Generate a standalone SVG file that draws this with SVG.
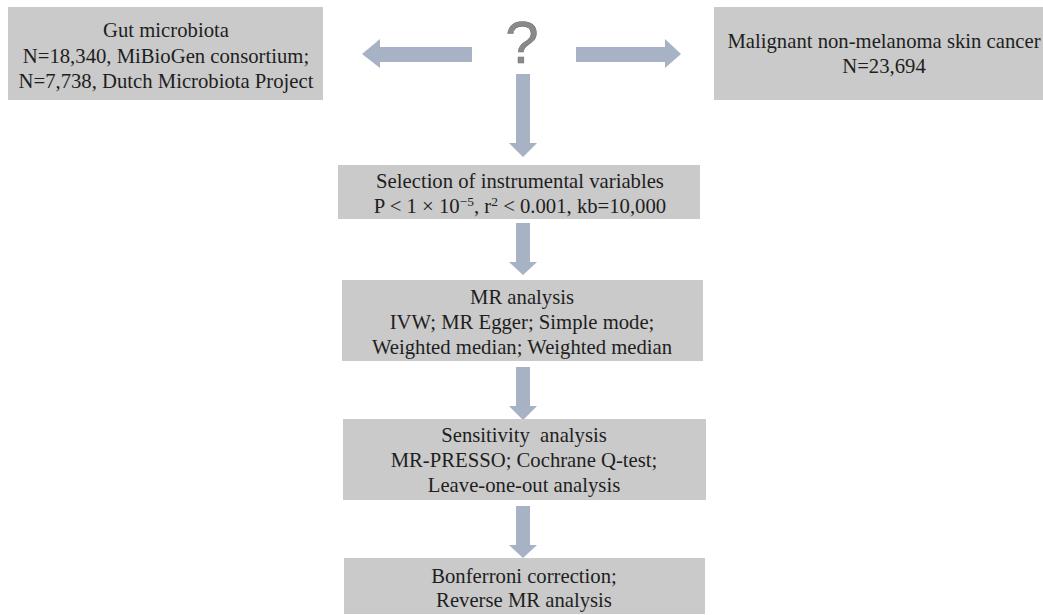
<svg xmlns="http://www.w3.org/2000/svg" width="1043" height="615" viewBox="0 0 1043 615">
<style>
.box{fill:#cacaca}
.t{font-family:"Liberation Serif","Times New Roman",serif;font-size:20.7px;fill:#1e1e1e;text-anchor:middle}
.arr{fill:#a7b2c4}
.q{font-family:"Liberation Sans",Arial,sans-serif;font-size:60px;fill:#8a8a8a;stroke:#707070;stroke-width:0.6;text-anchor:middle}
.sup{font-size:13.5px}
</style>
<rect width="1043" height="615" fill="#ffffff"/>
<g id="connectors">
<polygon class="arr" points="472,47 380,47 380,39 362,54 380,68 380,62 472,62"/>
<polygon class="arr" points="576,47 665,47 665,39 681,54 665,68 665,62 576,62"/>
<polygon class="arr" points="516,74 530,74 530,143 537,143 523,157 509,143 516,143"/>
<polygon class="arr" points="516,223 530,223 530,262 537,262 523,275 509,262 516,262"/>
<polygon class="arr" points="516,367 530,367 530,406 537,406 523,420 509,406 516,406"/>
<polygon class="arr" points="516,506 530,506 530,545 537,545 523,558 509,545 516,545"/>
</g>
<g id="question">
<text class="q" x="522" y="63">?</text>
</g>
<g id="gut">
<rect class="box" x="8" y="7" width="315" height="93"/>
<text class="t" x="166" y="37">Gut microbiota</text>
<text class="t" x="166" y="63">N=18,340, MiBioGen consortium;</text>
<text class="t" x="166" y="88">N=7,738, Dutch Microbiota Project</text>
</g>
<g id="cancer">
<rect class="box" x="714" y="7" width="329" height="93"/>
<text class="t" x="884" y="48">Malignant non-melanoma skin cancer</text>
<text class="t" x="884" y="73">N=23,694</text>
</g>
<g id="selection">
<rect class="box" x="338" y="165" width="362" height="54"/>
<text class="t" x="520" y="188">Selection of instrumental variables</text>
<text class="t" x="520" y="213">P &lt; 1 × 10<tspan class="sup" dy="-7">−5</tspan><tspan dy="7">, r</tspan><tspan class="sup" dy="-7">2</tspan><tspan dy="7"> &lt; 0.001, kb=10,000</tspan></text>
</g>
<g id="mr">
<rect class="box" x="342" y="280" width="361" height="81"/>
<text class="t" x="522" y="304">MR analysis</text>
<text class="t" x="522" y="329">IVW; MR Egger; Simple mode;</text>
<text class="t" x="522" y="354">Weighted median; Weighted median</text>
</g>
<g id="sensitivity">
<rect class="box" x="343" y="419" width="363" height="81"/>
<text class="t" x="524" y="442" xml:space="preserve">Sensitivity  analysis</text>
<text class="t" x="524" y="467">MR-PRESSO; Cochrane Q-test;</text>
<text class="t" x="524" y="492">Leave-one-out analysis</text>
</g>
<g id="bonferroni">
<rect class="box" x="344" y="558" width="361" height="56"/>
<text class="t" x="524" y="583">Bonferroni correction;</text>
<text class="t" x="524" y="607">Reverse MR analysis</text>
</g>
</svg>
